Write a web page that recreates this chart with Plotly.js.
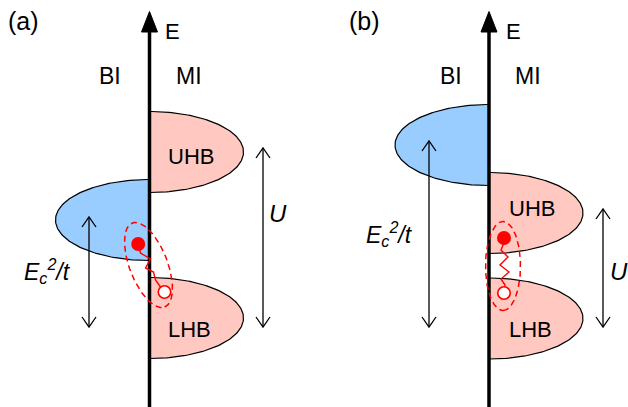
<!DOCTYPE html>
<html>
<head>
<meta charset="utf-8">
<script src="https://cdn.plot.ly/plotly-3.0.1.min.js"></script>
<style>html,body{margin:0;padding:0;background:#fff;}#chart{width:628px;height:407px;}</style>
</head>
<body>
<div id="chart"></div>
<script>
// ---- Data (energy E measured upward, DOS measured from the energy axis) ----
const panelLabels = ['(a)', '(b)'];
const bandNames = ['BI', 'UHB', 'LHB'];
const bandSides = [-1, 1, 1];            // BI on the left, Mott bands on the right
const bandCentersA = [187, 255, 89];     // panel (a) band-centre energies
const bandCentersB = [262, 194, 88.5];   // panel (b) band-centre energies
const bandHalfWidths = [40.5, 40.5, 40.5];
const bandDOS = [94, 94, 94];
const ecArrowA = [190, 80];   // E_c^2/t arrow (top, bottom)
const uArrowA = [259, 80];    // U arrow
const ecArrowB = [266, 80];
const uArrowB = [198, 80];
const electronA = [-11.3, 163]; // (dos offset, energy)
const holeA = [15, 115];
const electronB = [15, 169];
const holeB = [15, 114];
const springA = [[-9, 154], [1, 148], [-4, 139], [4, 135], [6, 127], [11, 120]];
const springB = [[14, 162], [12, 157], [19, 150], [11, 142], [20, 135], [12, 128], [16, 122]];

// ---- Layout constants ----
const H = 407;
const axisX = [149.5, 489];
const ecArrowX = [89, 429];
const uArrowX = [263, 603];
const fontFam = "Arial, 'Liberation Sans', sans-serif";
const blue = '#99CCFF', pink = '#FFC9C1', red = '#FF0000';

const traces = [];
const annotations = [];

function halfEllipse(cx, cy, rx, ry, side) {
  const xs = [], ys = [];
  for (let i = 0; i <= 120; i++) {
    const t = -Math.PI / 2 + Math.PI * i / 120;
    xs.push(cx + side * rx * Math.cos(t));
    ys.push(cy + ry * Math.sin(t));
  }
  return {xs, ys};
}

function addDoubleArrow(x, top, bot) {
  const hw = 7, hl = 10;
  traces.push({
    x: [x, x, null, x - hw, x, x + hw, null, x - hw, x, x + hw],
    y: [top, bot, null, top - hl, top, top - hl, null, bot + hl, bot, bot + hl],
    mode: 'lines', line: {color: '#000', width: 1.3}, hoverinfo: 'skip', showlegend: false
  });
}

function text(x, y, t, size, italic) {
  annotations.push({x, y, xref: 'x', yref: 'y', text: italic ? '<i>' + t + '</i>' : t,
    showarrow: false, font: {family: fontFam, size: size, color: '#000'},
    xanchor: 'center', yanchor: 'middle'});
}

const panels = [
  {centers: bandCentersA, ec: ecArrowA, u: uArrowA, el: electronA, ho: holeA, spring: springA,
   tiltDeg: 21, ell: [-1, 142, 45, 19]},
  {centers: bandCentersB, ec: ecArrowB, u: uArrowB, el: electronB, ho: holeB, spring: springB,
   tiltDeg: 0, ell: [14, 141, 44.5, 17.5]}
];

panels.forEach((p, k) => {
  const ax = axisX[k];
  // bands
  bandNames.forEach((nm, i) => {
    const e = halfEllipse(ax, p.centers[i], bandDOS[i], bandHalfWidths[i], bandSides[i]);
    traces.push({x: e.xs, y: e.ys, mode: 'lines', fill: 'toself',
      fillcolor: i === 0 ? blue : pink, line: {color: '#000', width: 1.2},
      hoverinfo: 'skip', showlegend: false});
  });
  // energy axis
  traces.push({x: [ax, ax], y: [0, 376], mode: 'lines', line: {color: '#000', width: 3.5},
    hoverinfo: 'skip', showlegend: false});
  traces.push({x: [ax - 8, ax, ax + 8, ax - 8], y: [375, 395.5, 375, 375], mode: 'lines', fill: 'toself',
    fillcolor: '#000', line: {color: '#000', width: 1}, hoverinfo: 'skip', showlegend: false});
  // dashed exciton ellipse
  const [ecx, ecy, a, b] = p.ell;
  const th = p.tiltDeg * Math.PI / 180;
  const ux = Math.sin(th), uy = -Math.cos(th);
  const vx = Math.cos(th), vy = Math.sin(th);
  const ex = [], ey = [];
  for (let i = 0; i <= 160; i++) {
    const t = 2 * Math.PI * i / 160;
    ex.push(ax + ecx + a * Math.cos(t) * ux + b * Math.sin(t) * vx);
    ey.push(ecy + a * Math.cos(t) * uy + b * Math.sin(t) * vy);
  }
  traces.push({x: ex, y: ey, mode: 'lines', line: {color: red, width: 1.5, dash: '6px,4px'},
    hoverinfo: 'skip', showlegend: false});
  // spring
  traces.push({x: [ax + p.el[0]].concat(p.spring.map(q => ax + q[0])).concat([ax + p.ho[0]]),
    y: [p.el[1]].concat(p.spring.map(q => q[1])).concat([p.ho[1]]),
    mode: 'lines', line: {color: red, width: 1.4}, hoverinfo: 'skip', showlegend: false});
  // electron & hole
  traces.push({x: [ax + p.el[0]], y: [p.el[1]], mode: 'markers',
    marker: {size: 14, color: red, line: {width: 0}}, hoverinfo: 'skip', showlegend: false});
  traces.push({x: [ax + p.ho[0]], y: [p.ho[1]], mode: 'markers',
    marker: {size: 12.5, color: '#fff', line: {width: 1.6, color: red}}, hoverinfo: 'skip', showlegend: false});
  // arrows
  addDoubleArrow(ecArrowX[k], p.ec[0], p.ec[1]);
  addDoubleArrow(uArrowX[k], p.u[0], p.u[1]);
});

// text
text(23, H - 21, panelLabels[0], 25);
text(364, H - 21, panelLabels[1], 25);
text(172.5, H - 31, 'E', 22);
text(513.5, H - 31, 'E', 22);
text(109.5, H - 76, 'BI', 23);
text(188.5, H - 76, 'MI', 23);
text(450.5, H - 76, 'BI', 23);
text(528, H - 76, 'MI', 23);
text(190.5, H - 156, 'UHB', 22);
text(189, H - 329.5, 'LHB', 22);
text(531.5, H - 208.5, 'UHB', 22);
text(530, H - 329.5, 'LHB', 22);
text(277.5, H - 213.5, 'U', 24, true);
text(619, H - 271.5, 'U', 24, true);
text(47.5, H - 271, 'E<sub>c</sub><sup>2</sup>/t', 23, true);
text(389, H - 234, 'E<sub>c</sub><sup>2</sup>/t', 23, true);

const layout = {
  width: 628, height: 407,
  margin: {l: 0, r: 0, t: 0, b: 0},
  paper_bgcolor: '#fff', plot_bgcolor: '#fff',
  xaxis: {range: [0, 628], visible: false, fixedrange: true},
  yaxis: {range: [0, 407], visible: false, fixedrange: true},
  annotations: annotations,
  showlegend: false
};

Plotly.newPlot('chart', traces, layout, {displayModeBar: false, staticPlot: true});
</script>
</body>
</html>
